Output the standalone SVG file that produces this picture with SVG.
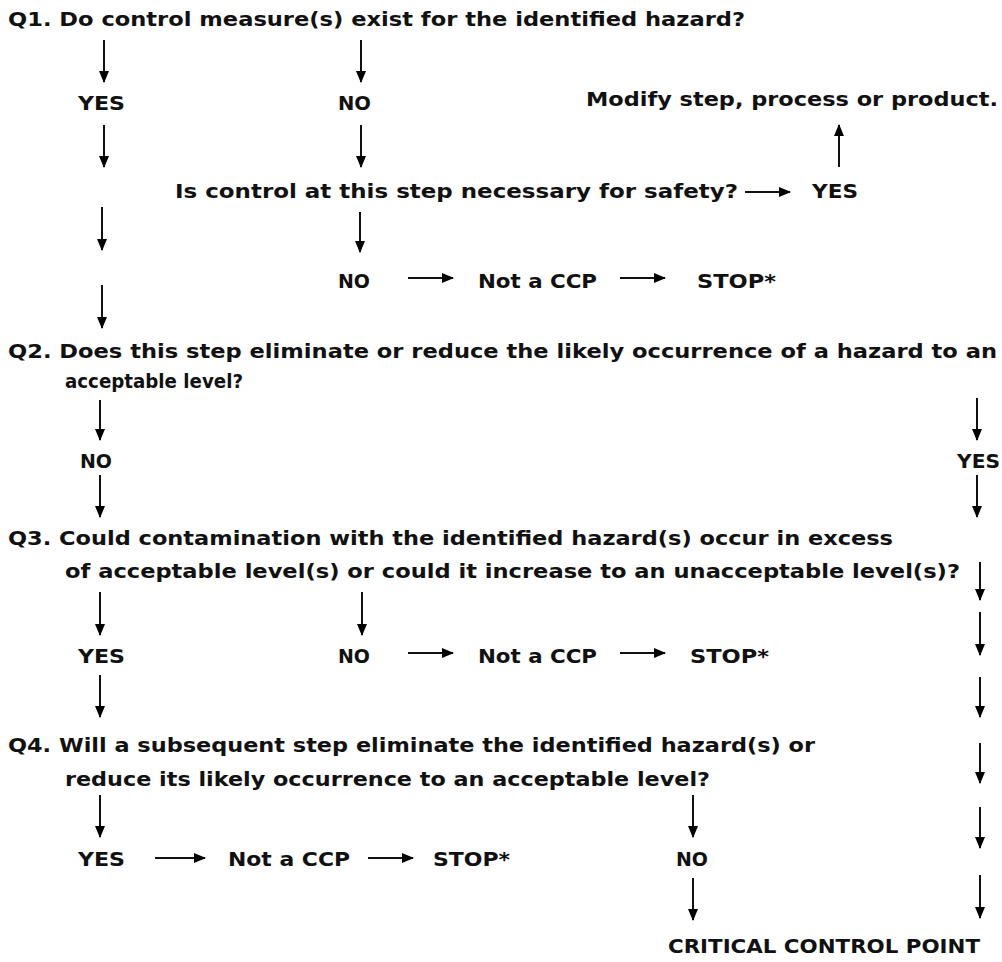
<svg xmlns="http://www.w3.org/2000/svg" width="1002" height="962" viewBox="0 0 1002 962">
<defs>
<marker id="ah" viewBox="0 0 12 10" refX="11" refY="5" markerWidth="12" markerHeight="10" markerUnits="userSpaceOnUse" orient="auto">
<path d="M0,0 L12,5 L0,10 Z" fill="#000"/>
</marker>
<style>
text{font-family:"DejaVu Sans",Verdana,sans-serif;font-weight:bold;font-size:19px;fill:#111}
.c line{stroke:#111;stroke-width:2;marker-end:url(#ah)}
</style>
</defs>
<rect width="1002" height="962" fill="#fff"/>
<g id="q1"><text x="8" y="26" textLength="737" lengthAdjust="spacingAndGlyphs">Q1.  Do control measure(s) exist for the identified hazard?</text></g>
<g id="q1-yes"><text x="78" y="110" textLength="47" lengthAdjust="spacingAndGlyphs">YES</text></g>
<g id="q1-no"><text x="338" y="110" textLength="33" lengthAdjust="spacingAndGlyphs">NO</text></g>
<g id="modify"><text x="586" y="106" textLength="412" lengthAdjust="spacingAndGlyphs">Modify step, process or product.</text></g>
<g id="q1b"><text x="175" y="198" textLength="563" lengthAdjust="spacingAndGlyphs">Is control at this step necessary for safety?</text></g>
<g id="q1b-yes"><text x="812" y="198" textLength="46" lengthAdjust="spacingAndGlyphs">YES</text></g>
<g id="q1b-no"><text x="338" y="288" textLength="32" lengthAdjust="spacingAndGlyphs">NO</text></g>
<g id="ccp1"><text x="478" y="288" textLength="119" lengthAdjust="spacingAndGlyphs">Not a CCP</text></g>
<g id="stop1"><text x="697" y="288" textLength="79" lengthAdjust="spacingAndGlyphs">STOP*</text></g>
<g id="q2"><text x="8" y="358" textLength="989" lengthAdjust="spacingAndGlyphs">Q2.  Does this step eliminate or reduce the likely occurrence of a hazard to an</text>
<text x="65" y="388" textLength="178" lengthAdjust="spacingAndGlyphs">acceptable level?</text></g>
<g id="q2-no"><text x="80" y="468" textLength="32" lengthAdjust="spacingAndGlyphs">NO</text></g>
<g id="q2-yes"><text x="957" y="468" textLength="43" lengthAdjust="spacingAndGlyphs">YES</text></g>
<g id="q3"><text x="8" y="545" textLength="885" lengthAdjust="spacingAndGlyphs">Q3.  Could contamination with the identified hazard(s) occur in excess</text>
<text x="65" y="578" textLength="895" lengthAdjust="spacingAndGlyphs">of acceptable level(s) or could it increase to an unacceptable level(s)?</text></g>
<g id="q3-yes"><text x="78" y="663" textLength="47" lengthAdjust="spacingAndGlyphs">YES</text></g>
<g id="q3-no"><text x="338" y="663" textLength="32" lengthAdjust="spacingAndGlyphs">NO</text></g>
<g id="ccp2"><text x="478" y="663" textLength="119" lengthAdjust="spacingAndGlyphs">Not a CCP</text></g>
<g id="stop2"><text x="690" y="663" textLength="79" lengthAdjust="spacingAndGlyphs">STOP*</text></g>
<g id="q4"><text x="8" y="752" textLength="807" lengthAdjust="spacingAndGlyphs">Q4.  Will a subsequent step eliminate the identified hazard(s) or</text>
<text x="65" y="786" textLength="645" lengthAdjust="spacingAndGlyphs">reduce its likely occurrence to an acceptable level?</text></g>
<g id="q4-yes"><text x="78" y="866" textLength="47" lengthAdjust="spacingAndGlyphs">YES</text></g>
<g id="ccp3"><text x="228" y="866" textLength="122" lengthAdjust="spacingAndGlyphs">Not a CCP</text></g>
<g id="stop3"><text x="433" y="866" textLength="77" lengthAdjust="spacingAndGlyphs">STOP*</text></g>
<g id="q4-no"><text x="676" y="866" textLength="32" lengthAdjust="spacingAndGlyphs">NO</text></g>
<g id="ccp"><text x="668" y="953" textLength="312" lengthAdjust="spacingAndGlyphs">CRITICAL CONTROL POINT</text></g>
<g id="connectors" class="c">
<line x1="104" y1="40" x2="104" y2="82"/>
<line x1="361" y1="40" x2="361" y2="82"/>
<line x1="104" y1="125" x2="104" y2="167"/>
<line x1="361" y1="125" x2="361" y2="167"/>
<line x1="839" y1="167" x2="839" y2="125"/>
<line x1="745" y1="192" x2="790" y2="192"/>
<line x1="102" y1="207" x2="102" y2="250"/>
<line x1="360" y1="212" x2="360" y2="252"/>
<line x1="102" y1="285" x2="102" y2="328"/>
<line x1="408" y1="278" x2="453" y2="278"/>
<line x1="620" y1="278" x2="665" y2="278"/>
<line x1="100" y1="400" x2="100" y2="440"/>
<line x1="977" y1="398" x2="977" y2="440"/>
<line x1="100" y1="475" x2="100" y2="517"/>
<line x1="977" y1="475" x2="977" y2="517"/>
<line x1="980" y1="562" x2="980" y2="600"/>
<line x1="100" y1="592" x2="100" y2="635"/>
<line x1="362" y1="592" x2="362" y2="635"/>
<line x1="408" y1="653" x2="453" y2="653"/>
<line x1="620" y1="653" x2="665" y2="653"/>
<line x1="980" y1="612" x2="980" y2="655"/>
<line x1="100" y1="675" x2="100" y2="717"/>
<line x1="980" y1="677" x2="980" y2="717"/>
<line x1="980" y1="743" x2="980" y2="783"/>
<line x1="100" y1="795" x2="100" y2="837"/>
<line x1="693" y1="795" x2="693" y2="837"/>
<line x1="980" y1="807" x2="980" y2="848"/>
<line x1="155" y1="858" x2="205" y2="858"/>
<line x1="368" y1="858" x2="413" y2="858"/>
<line x1="693" y1="878" x2="693" y2="920"/>
<line x1="980" y1="875" x2="980" y2="918"/>
</g>
</svg>
